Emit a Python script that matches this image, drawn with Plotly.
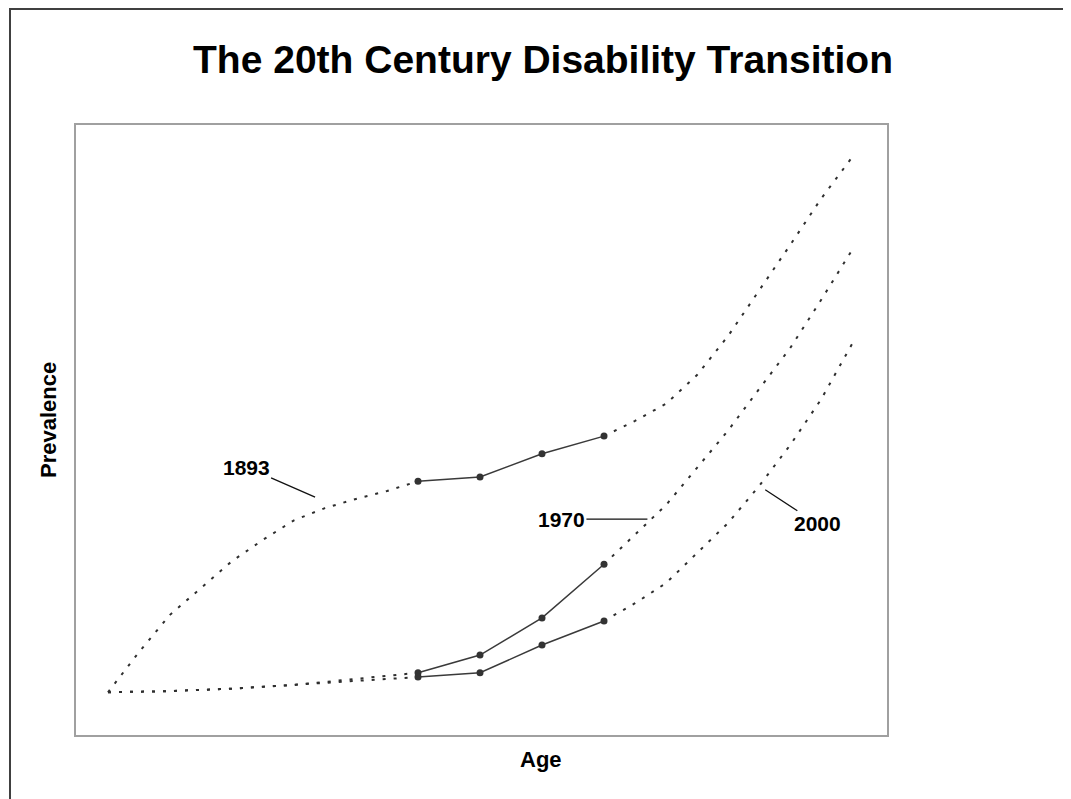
import plotly.graph_objects as go

# ---- data (age vs prevalence, arbitrary units) ----
ages_early = [40, 42.5, 45, 47.5, 50, 52.5, 55, 57.5, 60, 62.5, 65]
ages_early_b = [40, 45, 50, 55, 60, 65]
ages_obs = [65, 70, 75, 80]
ages_late = [80, 82.5, 85, 87.5, 90, 92.5, 95, 97.5, 100]

p1893_early = [7.0, 13.6, 19.7, 24.1, 28.5, 32.0, 35.2, 37.2, 38.7, 40.0, 41.6]
p1893_obs = [41.6, 42.3, 46.1, 49.0]
p1893_late = [49.0, 51.5, 54.3, 59.0, 65.4, 72.8, 80.3, 87.9, 94.7]

p1970_early = [7.0, 7.2, 7.6, 8.2, 9.2, 10.2]
p1970_obs = [10.2, 13.1, 19.2, 28.0]
p1970_late = [28.0, 32.8, 37.7, 43.8, 49.9, 56.7, 63.4, 71.3, 79.5]

p2000_early = [7.0, 7.2, 7.6, 8.2, 8.9, 9.5]
p2000_obs = [9.5, 10.2, 14.75, 18.7]
p2000_late = [18.7, 21.6, 24.9, 29.8, 34.75, 40.8, 47.5, 55.0, 64.1]

labels = ["1893", "1970", "2000"]
label_age = [56.7, 83.5, 93.0]
label_prev = [39.0, 35.4, 40.2]
label_ax = [-69, -86, 52]
label_ay = [-30, 0, 34]

title = "The 20th Century Disability Transition"
x_title = "Age"
y_title = "Prevalence"

FONT = "Liberation Sans, Arial, Helvetica, sans-serif"
DOT = "3px,8px"
LINE_C = "#2e2e2e"

# page body has an 8px margin -> layout is built in page coords minus 8
OFF = 8
W, H = 1071 - OFF, 799 - OFF
L, T = 76 - OFF, 125 - OFF
PW, PH = 811, 610

fig = go.Figure()

series = [
    (ages_early, p1893_early, p1893_obs, p1893_late),
    (ages_early_b, p1970_early, p1970_obs, p1970_late),
    (ages_early_b, p2000_early, p2000_obs, p2000_late),
]
for early_x, early, obs, late in series:
    fig.add_trace(go.Scatter(x=early_x, y=early, mode="lines",
                             line=dict(color=LINE_C, width=2, dash=DOT),
                             showlegend=False, hoverinfo="skip"))
    fig.add_trace(go.Scatter(x=ages_late, y=late, mode="lines",
                             line=dict(color=LINE_C, width=2, dash=DOT),
                             showlegend=False, hoverinfo="skip"))
    fig.add_trace(go.Scatter(x=ages_obs, y=obs, mode="lines+markers",
                             line=dict(color="#3a3a3a", width=1.5),
                             marker=dict(color="#333333", size=7, symbol="circle"),
                             showlegend=False))


def px_x(p):
    return (p - OFF - L) / PW


def px_y(p):
    return (T + PH - (p - OFF)) / PH


annotations = []
for txt, ax_, ay_, x, y in zip(labels, label_ax, label_ay, label_age, label_prev):
    annotations.append(dict(
        x=x, y=y, xref="x", yref="y", text=txt, showarrow=True,
        ax=ax_, ay=ay_, arrowhead=0, arrowwidth=1.3, arrowcolor="#111111",
        font=dict(family=FONT, size=21, color="black", weight="bold"),
        borderpad=1, standoff=0))

annotations.append(dict(x=px_x(541), y=px_y(759), xref="paper", yref="paper",
                        text=x_title, showarrow=False, xanchor="center", yanchor="middle",
                        font=dict(family=FONT, size=22, color="black", weight="bold")))
annotations.append(dict(x=px_x(48), y=px_y(420), xref="paper", yref="paper",
                        text=y_title, showarrow=False, textangle=-90,
                        xanchor="center", yanchor="middle",
                        font=dict(family=FONT, size=22, color="black", weight="bold")))

fig.update_layout(
    width=W, height=H,
    margin=dict(l=L, r=W - L - PW, t=T, b=H - T - PH),
    paper_bgcolor="white", plot_bgcolor="white",
    title=dict(text=title, x=(543 - OFF) / W, xref="container", xanchor="center",
               y=1 - (59 - OFF) / H, yref="container", yanchor="middle",
               font=dict(family=FONT, size=39, color="black", weight="bold")),
    xaxis=dict(range=[37.42, 102.82], showticklabels=False, showgrid=False,
               zeroline=False, showline=True, mirror=True, linecolor="#a0a0a0",
               linewidth=2, ticks=""),
    yaxis=dict(range=[0, 100], showticklabels=False, showgrid=False,
               zeroline=False, showline=True, mirror=True, linecolor="#a0a0a0",
               linewidth=2, ticks=""),
    annotations=annotations,
    shapes=[dict(type="rect", xref="paper", yref="paper",
                 x0=px_x(10), x1=px_x(1069),
                 y0=px_y(812), y1=px_y(9),
                 line=dict(color="#404040", width=2), layer="above")],
)

fig.write_html("out.html")
